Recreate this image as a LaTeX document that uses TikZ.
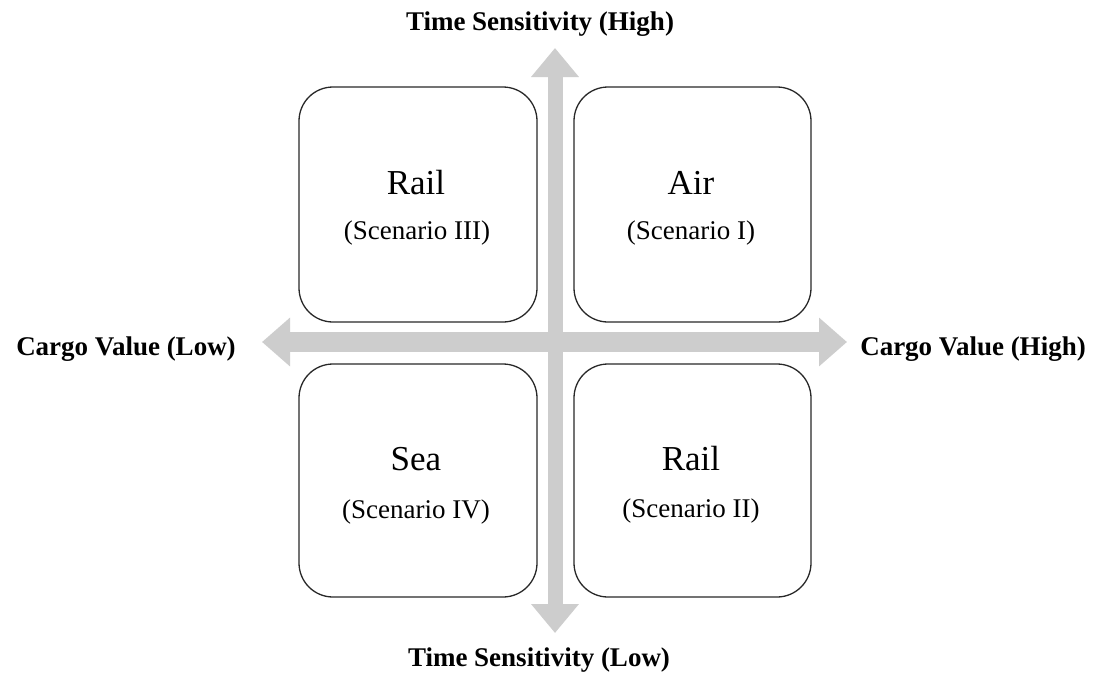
\documentclass[tikz,border=0pt]{standalone}
\usepackage{fontspec}
\setmainfont{Liberation Serif}
\usetikzlibrary{arrows.meta}
\definecolor{axisgray}{RGB}{205,205,205}
\definecolor{boxline}{RGB}{40,40,40}
\tikzset{
  quad/.style={draw=boxline, line width=1.3pt, rounded corners=34pt, fill=white, inner sep=0pt},
  mode/.style={anchor=base, font=\fontsize{35}{40}\selectfont},
  scen/.style={anchor=base, font=\fontsize{27}{32}\selectfont},
  axlabel/.style={anchor=base, font=\fontsize{27}{32}\selectfont\bfseries},
  vaxis/.style={axisgray, line width=15pt, {Triangle[width=46pt,length=29pt]}-{Triangle[width=46pt,length=29pt]}},
  haxis/.style={axisgray, line width=20pt, {Triangle[width=47pt,length=28pt]}-{Triangle[width=47pt,length=28pt]}}
}
\begin{document}
\begin{tikzpicture}[x=1pt,y=-1pt]
\useasboundingbox[fill=white] (0,0) rectangle (1095,675);
% axes
\coordinate (vtop) at (555,48);
\coordinate (vbot) at (555,633);
\coordinate (hleft) at (262,342);
\coordinate (hright) at (847,342);
\draw[vaxis] (vtop) -- (vbot);
\draw[haxis] (hleft) -- (hright);
% boxes
\node[quad, minimum width=238pt, minimum height=235pt] (b3) at (418,204.5) {};
\node[quad, minimum width=237pt, minimum height=235pt] (b1) at (692.5,204.5) {};
\node[quad, minimum width=238pt, minimum height=233pt] (b4) at (418,480.5) {};
\node[quad, minimum width=237pt, minimum height=233pt] (b2) at (692.5,480.5) {};
% box texts
\node[mode] (t3) at (416,194) {Rail};
\node[scen] (s3) at (417,239) {(Scenario III)};
\node[mode] (t1) at (691,194) {Air};
\node[scen] (s1) at (691,239) {(Scenario I)};
\node[mode] (t4) at (416,470) {Sea};
\node[scen] (s4) at (416,518) {(Scenario IV)};
\node[mode] (t2) at (691,470) {Rail};
\node[scen] (s2) at (691,517) {(Scenario II)};
% axis labels
\node[axlabel] (lhigh) at (540,30) {Time Sensitivity (High)};
\node[axlabel] (llow) at (539,666) {Time Sensitivity (Low)};
\node[axlabel] (clow) at (126,355) {Cargo Value (Low)};
\node[axlabel] (chigh) at (973,355) {Cargo Value (High)};
\end{tikzpicture}
\end{document}
